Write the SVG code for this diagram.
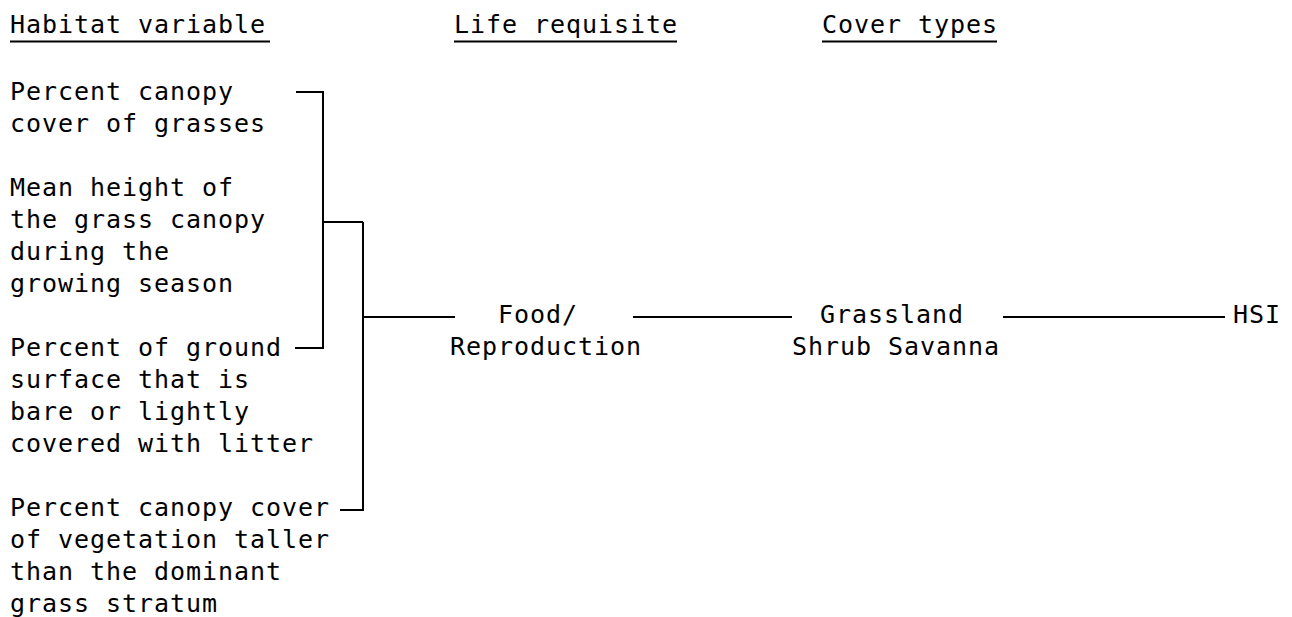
<svg xmlns="http://www.w3.org/2000/svg" width="1292" height="617" viewBox="0 0 1292 617">
<style>
text{font-family:"DejaVu Sans Mono","Liberation Mono",monospace;font-size:25px;letter-spacing:0.95px;fill:#000}
.ln{stroke:#000;stroke-width:2;fill:none}
</style>
<rect width="1292" height="617" fill="#fff"/>
<g id="headers">
<text x="10" y="33">Habitat variable</text>
<line class="ln" x1="10" y1="41.5" x2="270" y2="41.5"/>
<text x="454" y="33">Life requisite</text>
<line class="ln" x1="454" y1="41.5" x2="677" y2="41.5"/>
<text x="822" y="33">Cover types</text>
<line class="ln" x1="822" y1="41.5" x2="997" y2="41.5"/>
</g>
<g id="var1"><text x="10" y="100">Percent canopy</text><text x="10" y="132">cover of grasses</text></g>
<g id="var2"><text x="10" y="196">Mean height of</text><text x="10" y="228">the grass canopy</text><text x="10" y="260">during the</text><text x="10" y="292">growing season</text></g>
<g id="var3"><text x="10" y="356">Percent of ground</text><text x="10" y="388">surface that is</text><text x="10" y="420">bare or lightly</text><text x="10" y="452">covered with litter</text></g>
<g id="var4"><text x="10" y="516">Percent canopy cover</text><text x="10" y="548">of vegetation taller</text><text x="10" y="580">than the dominant</text><text x="10" y="612">grass stratum</text></g>
<g id="food"><text x="498" y="323">Food/</text><text x="450" y="355">Reproduction</text></g>
<g id="cover"><text x="820" y="323">Grassland</text><text x="792" y="355">Shrub Savanna</text></g>
<g id="hsi"><text x="1233" y="323">HSI</text></g>
<g id="connectors">
<polyline class="ln" points="296,92 323,92 323,348 295,348"/>
<line class="ln" x1="323" y1="222" x2="363" y2="222"/>
<polyline class="ln" points="363,222 363,510 340,510"/>
<line class="ln" x1="363" y1="317" x2="455" y2="317"/>
<line class="ln" x1="633" y1="317" x2="792" y2="317"/>
<line class="ln" x1="1003" y1="317" x2="1225" y2="317"/>
</g>
</svg>
